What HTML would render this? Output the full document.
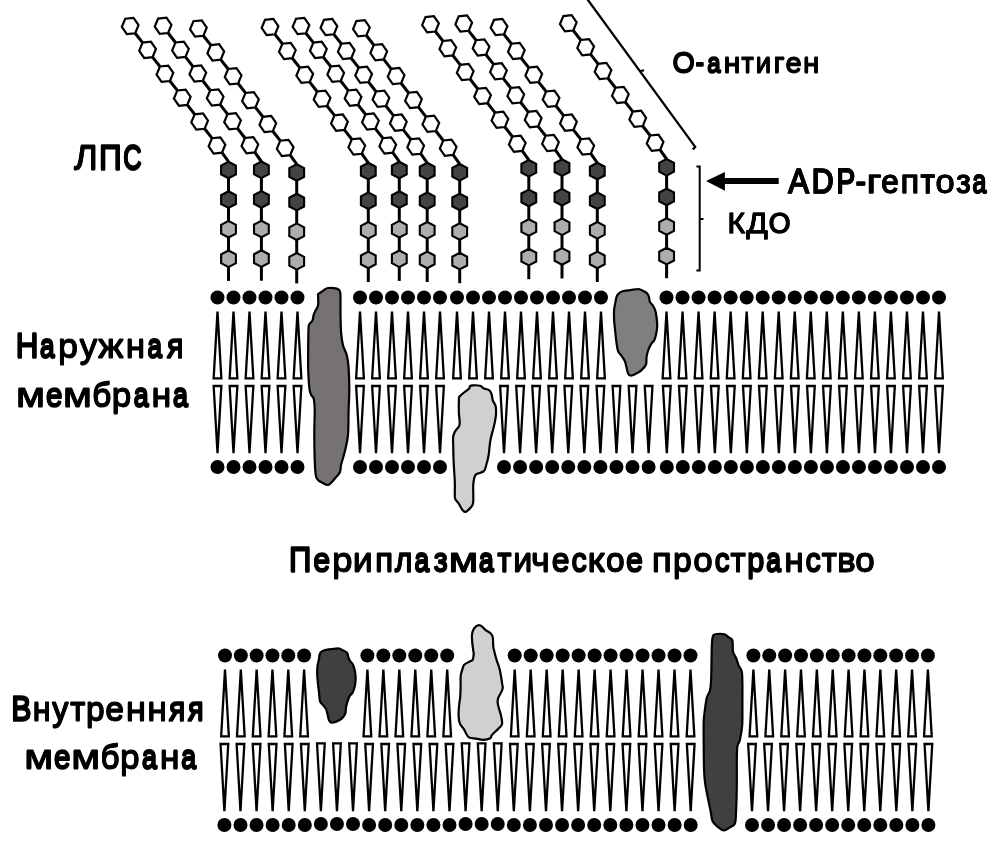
<!DOCTYPE html>
<html><head><meta charset="utf-8"><style>
html,body{margin:0;padding:0;background:#fff;}
svg{display:block;will-change:transform;}
</style></head><body>
<svg width="1002" height="858" viewBox="0 0 1002 858">
<g stroke="#000" stroke-width="2" fill="none" stroke-linecap="butt"><path d="M587.2 -1L695.2 146.9L692.8 149.5" stroke-width="2.3"/><path d="M639.9 71.3L644.2 70.2"/><path d="M696.4 166.4H699.7V270.5H696.4M699.7 219H703.5"/></g><path d="M778.7 178H724.9V171.9L706 181L724.9 190.7V184H778.7Z" fill="#000"/>
<g stroke="#000" stroke-width="3"><line x1="135.18" y1="33.23" x2="142.58" y2="42.65"/><line x1="152.54" y1="57.11" x2="159.94" y2="66.53"/><line x1="169.9" y1="80.99" x2="177.3" y2="90.41"/><line x1="187.26" y1="104.87" x2="194.66" y2="114.29"/><line x1="204.62" y1="128.75" x2="212.02" y2="138.17"/><line x1="221.98" y1="152.63" x2="228.5" y2="161.7"/><line x1="228.5" y1="178.3" x2="228.5" y2="191.3"/><line x1="228.5" y1="207.9" x2="228.5" y2="220.9"/><line x1="228.5" y1="237.5" x2="228.5" y2="250.5"/><line x1="228.5" y1="267.1" x2="228.5" y2="280.9"/><line x1="168.08" y1="33.03" x2="175.48" y2="42.45"/><line x1="185.44" y1="56.91" x2="192.84" y2="66.33"/><line x1="202.8" y1="80.79" x2="210.2" y2="90.21"/><line x1="220.16" y1="104.67" x2="227.56" y2="114.09"/><line x1="237.52" y1="128.55" x2="244.92" y2="137.97"/><line x1="254.88" y1="152.43" x2="261.4" y2="161.5"/><line x1="261.4" y1="178.1" x2="261.4" y2="191.1"/><line x1="261.4" y1="207.7" x2="261.4" y2="220.7"/><line x1="261.4" y1="237.3" x2="261.4" y2="250.3"/><line x1="261.4" y1="266.9" x2="261.4" y2="280.7"/><line x1="203.38" y1="35.73" x2="210.78" y2="45.15"/><line x1="220.74" y1="59.61" x2="228.14" y2="69.03"/><line x1="238.1" y1="83.49" x2="245.5" y2="92.91"/><line x1="255.46" y1="107.37" x2="262.86" y2="116.79"/><line x1="272.82" y1="131.25" x2="280.22" y2="140.67"/><line x1="290.18" y1="155.13" x2="296.7" y2="164.2"/><line x1="296.7" y1="180.8" x2="296.7" y2="193.8"/><line x1="296.7" y1="210.4" x2="296.7" y2="223.4"/><line x1="296.7" y1="240" x2="296.7" y2="253"/><line x1="296.7" y1="269.6" x2="296.7" y2="283.4"/><line x1="274.98" y1="34.33" x2="282.38" y2="43.75"/><line x1="292.34" y1="58.21" x2="299.74" y2="67.63"/><line x1="309.7" y1="82.09" x2="317.1" y2="91.51"/><line x1="327.06" y1="105.97" x2="334.46" y2="115.39"/><line x1="344.42" y1="129.85" x2="351.82" y2="139.27"/><line x1="361.78" y1="153.73" x2="368.3" y2="162.8"/><line x1="368.3" y1="179.4" x2="368.3" y2="192.4"/><line x1="368.3" y1="209" x2="368.3" y2="222"/><line x1="368.3" y1="238.6" x2="368.3" y2="251.6"/><line x1="368.3" y1="268.2" x2="368.3" y2="282"/><line x1="305.98" y1="33.23" x2="313.38" y2="42.65"/><line x1="323.34" y1="57.11" x2="330.74" y2="66.53"/><line x1="340.7" y1="80.99" x2="348.1" y2="90.41"/><line x1="358.06" y1="104.87" x2="365.46" y2="114.29"/><line x1="375.42" y1="128.75" x2="382.82" y2="138.17"/><line x1="392.78" y1="152.63" x2="399.3" y2="161.7"/><line x1="399.3" y1="178.3" x2="399.3" y2="191.3"/><line x1="399.3" y1="207.9" x2="399.3" y2="220.9"/><line x1="399.3" y1="237.5" x2="399.3" y2="250.5"/><line x1="399.3" y1="267.1" x2="399.3" y2="280.9"/><line x1="333.88" y1="34.33" x2="341.28" y2="43.75"/><line x1="351.24" y1="58.21" x2="358.64" y2="67.63"/><line x1="368.6" y1="82.09" x2="376" y2="91.51"/><line x1="385.96" y1="105.97" x2="393.36" y2="115.39"/><line x1="403.32" y1="129.85" x2="410.72" y2="139.27"/><line x1="420.68" y1="153.73" x2="427.2" y2="162.8"/><line x1="427.2" y1="179.4" x2="427.2" y2="192.4"/><line x1="427.2" y1="209" x2="427.2" y2="222"/><line x1="427.2" y1="238.6" x2="427.2" y2="251.6"/><line x1="427.2" y1="268.2" x2="427.2" y2="282"/><line x1="366.38" y1="35.53" x2="373.78" y2="44.95"/><line x1="383.74" y1="59.41" x2="391.14" y2="68.83"/><line x1="401.1" y1="83.29" x2="408.5" y2="92.71"/><line x1="418.46" y1="107.17" x2="425.86" y2="116.59"/><line x1="435.82" y1="131.05" x2="443.22" y2="140.47"/><line x1="453.18" y1="154.93" x2="459.7" y2="164"/><line x1="459.7" y1="180.6" x2="459.7" y2="193.6"/><line x1="459.7" y1="210.2" x2="459.7" y2="223.2"/><line x1="459.7" y1="239.8" x2="459.7" y2="252.8"/><line x1="459.7" y1="269.4" x2="459.7" y2="283.2"/><line x1="435.48" y1="31.53" x2="442.88" y2="40.95"/><line x1="452.84" y1="55.41" x2="460.24" y2="64.83"/><line x1="470.2" y1="79.29" x2="477.6" y2="88.71"/><line x1="487.56" y1="103.17" x2="494.96" y2="112.59"/><line x1="504.92" y1="127.05" x2="512.32" y2="136.47"/><line x1="522.28" y1="150.93" x2="528.8" y2="160"/><line x1="528.8" y1="176.6" x2="528.8" y2="189.6"/><line x1="528.8" y1="206.2" x2="528.8" y2="219.2"/><line x1="528.8" y1="235.8" x2="528.8" y2="248.8"/><line x1="528.8" y1="265.4" x2="528.8" y2="279.2"/><line x1="468.68" y1="30.83" x2="476.08" y2="40.25"/><line x1="486.04" y1="54.71" x2="493.44" y2="64.13"/><line x1="503.4" y1="78.59" x2="510.8" y2="88.01"/><line x1="520.76" y1="102.47" x2="528.16" y2="111.89"/><line x1="538.12" y1="126.35" x2="545.52" y2="135.77"/><line x1="555.48" y1="150.23" x2="562" y2="159.3"/><line x1="562" y1="175.9" x2="562" y2="188.9"/><line x1="562" y1="205.5" x2="562" y2="218.5"/><line x1="562" y1="235.1" x2="562" y2="248.1"/><line x1="562" y1="264.7" x2="562" y2="278.5"/><line x1="503.98" y1="34.33" x2="511.38" y2="43.75"/><line x1="521.34" y1="58.21" x2="528.74" y2="67.63"/><line x1="538.7" y1="82.09" x2="546.1" y2="91.51"/><line x1="556.06" y1="105.97" x2="563.46" y2="115.39"/><line x1="573.42" y1="129.85" x2="580.82" y2="139.27"/><line x1="590.78" y1="153.73" x2="597.3" y2="162.8"/><line x1="597.3" y1="179.4" x2="597.3" y2="192.4"/><line x1="597.3" y1="209" x2="597.3" y2="222"/><line x1="597.3" y1="238.6" x2="597.3" y2="251.6"/><line x1="597.3" y1="268.2" x2="597.3" y2="282"/><line x1="573.28" y1="30.53" x2="580.68" y2="39.95"/><line x1="590.64" y1="54.41" x2="598.04" y2="63.83"/><line x1="608" y1="78.29" x2="615.4" y2="87.71"/><line x1="625.36" y1="102.17" x2="632.76" y2="111.59"/><line x1="642.72" y1="126.05" x2="650.12" y2="135.47"/><line x1="660.08" y1="149.93" x2="666.6" y2="159"/><line x1="666.6" y1="175.6" x2="666.6" y2="188.6"/><line x1="666.6" y1="205.2" x2="666.6" y2="218.2"/><line x1="666.6" y1="234.8" x2="666.6" y2="247.8"/><line x1="666.6" y1="264.4" x2="666.6" y2="278.2"/></g>
<g stroke="#000"><polygon points="138.55,25.12 135.18,33.23 126.83,34.1 121.85,26.88 125.22,18.77 133.57,17.9" fill="#fff" stroke-width="2.2"/><polygon points="155.91,49 152.54,57.11 144.19,57.98 139.21,50.76 142.58,42.65 150.93,41.78" fill="#fff" stroke-width="2.2"/><polygon points="173.27,72.88 169.9,80.99 161.55,81.86 156.57,74.64 159.94,66.53 168.29,65.66" fill="#fff" stroke-width="2.2"/><polygon points="190.63,96.76 187.26,104.87 178.91,105.74 173.93,98.52 177.3,90.41 185.65,89.54" fill="#fff" stroke-width="2.2"/><polygon points="207.99,120.64 204.62,128.75 196.27,129.62 191.29,122.4 194.66,114.29 203.01,113.42" fill="#fff" stroke-width="2.2"/><polygon points="225.35,144.52 221.98,152.63 213.63,153.5 208.65,146.28 212.02,138.17 220.37,137.3" fill="#fff" stroke-width="2.2"/><polygon points="228.5,161.7 235.9,165.6 235.9,174.4 228.5,178.3 221.1,174.4 221.1,165.6" fill="#434343" stroke-width="2.1"/><polygon points="228.5,191.3 235.9,195.2 235.9,204 228.5,207.9 221.1,204 221.1,195.2" fill="#434343" stroke-width="2.1"/><polygon points="228.5,220.9 235.9,224.8 235.9,233.6 228.5,237.5 221.1,233.6 221.1,224.8" fill="#aeadad" stroke-width="2.1"/><polygon points="228.5,250.5 235.9,254.4 235.9,263.2 228.5,267.1 221.1,263.2 221.1,254.4" fill="#aeadad" stroke-width="2.1"/><polygon points="171.45,24.92 168.08,33.03 159.73,33.9 154.75,26.68 158.12,18.57 166.47,17.7" fill="#fff" stroke-width="2.2"/><polygon points="188.81,48.8 185.44,56.91 177.09,57.78 172.11,50.56 175.48,42.45 183.83,41.58" fill="#fff" stroke-width="2.2"/><polygon points="206.17,72.68 202.8,80.79 194.45,81.66 189.47,74.44 192.84,66.33 201.19,65.46" fill="#fff" stroke-width="2.2"/><polygon points="223.53,96.56 220.16,104.67 211.81,105.54 206.83,98.32 210.2,90.21 218.55,89.34" fill="#fff" stroke-width="2.2"/><polygon points="240.89,120.44 237.52,128.55 229.17,129.42 224.19,122.2 227.56,114.09 235.91,113.22" fill="#fff" stroke-width="2.2"/><polygon points="258.25,144.32 254.88,152.43 246.53,153.3 241.55,146.08 244.92,137.97 253.27,137.1" fill="#fff" stroke-width="2.2"/><polygon points="261.4,161.5 268.8,165.4 268.8,174.2 261.4,178.1 254,174.2 254,165.4" fill="#434343" stroke-width="2.1"/><polygon points="261.4,191.1 268.8,195 268.8,203.8 261.4,207.7 254,203.8 254,195" fill="#434343" stroke-width="2.1"/><polygon points="261.4,220.7 268.8,224.6 268.8,233.4 261.4,237.3 254,233.4 254,224.6" fill="#aeadad" stroke-width="2.1"/><polygon points="261.4,250.3 268.8,254.2 268.8,263 261.4,266.9 254,263 254,254.2" fill="#aeadad" stroke-width="2.1"/><polygon points="206.75,27.62 203.38,35.73 195.03,36.6 190.05,29.38 193.42,21.27 201.77,20.4" fill="#fff" stroke-width="2.2"/><polygon points="224.11,51.5 220.74,59.61 212.39,60.48 207.41,53.26 210.78,45.15 219.13,44.28" fill="#fff" stroke-width="2.2"/><polygon points="241.47,75.38 238.1,83.49 229.75,84.36 224.77,77.14 228.14,69.03 236.49,68.16" fill="#fff" stroke-width="2.2"/><polygon points="258.83,99.26 255.46,107.37 247.11,108.24 242.13,101.02 245.5,92.91 253.85,92.04" fill="#fff" stroke-width="2.2"/><polygon points="276.19,123.14 272.82,131.25 264.47,132.12 259.49,124.9 262.86,116.79 271.21,115.92" fill="#fff" stroke-width="2.2"/><polygon points="293.55,147.02 290.18,155.13 281.83,156 276.85,148.78 280.22,140.67 288.57,139.8" fill="#fff" stroke-width="2.2"/><polygon points="296.7,164.2 304.1,168.1 304.1,176.9 296.7,180.8 289.3,176.9 289.3,168.1" fill="#434343" stroke-width="2.1"/><polygon points="296.7,193.8 304.1,197.7 304.1,206.5 296.7,210.4 289.3,206.5 289.3,197.7" fill="#434343" stroke-width="2.1"/><polygon points="296.7,223.4 304.1,227.3 304.1,236.1 296.7,240 289.3,236.1 289.3,227.3" fill="#aeadad" stroke-width="2.1"/><polygon points="296.7,253 304.1,256.9 304.1,265.7 296.7,269.6 289.3,265.7 289.3,256.9" fill="#aeadad" stroke-width="2.1"/><polygon points="278.35,26.22 274.98,34.33 266.63,35.2 261.65,27.98 265.02,19.87 273.37,19" fill="#fff" stroke-width="2.2"/><polygon points="295.71,50.1 292.34,58.21 283.99,59.08 279.01,51.86 282.38,43.75 290.73,42.88" fill="#fff" stroke-width="2.2"/><polygon points="313.07,73.98 309.7,82.09 301.35,82.96 296.37,75.74 299.74,67.63 308.09,66.76" fill="#fff" stroke-width="2.2"/><polygon points="330.43,97.86 327.06,105.97 318.71,106.84 313.73,99.62 317.1,91.51 325.45,90.64" fill="#fff" stroke-width="2.2"/><polygon points="347.79,121.74 344.42,129.85 336.07,130.72 331.09,123.5 334.46,115.39 342.81,114.52" fill="#fff" stroke-width="2.2"/><polygon points="365.15,145.62 361.78,153.73 353.43,154.6 348.45,147.38 351.82,139.27 360.17,138.4" fill="#fff" stroke-width="2.2"/><polygon points="368.3,162.8 375.7,166.7 375.7,175.5 368.3,179.4 360.9,175.5 360.9,166.7" fill="#434343" stroke-width="2.1"/><polygon points="368.3,192.4 375.7,196.3 375.7,205.1 368.3,209 360.9,205.1 360.9,196.3" fill="#434343" stroke-width="2.1"/><polygon points="368.3,222 375.7,225.9 375.7,234.7 368.3,238.6 360.9,234.7 360.9,225.9" fill="#aeadad" stroke-width="2.1"/><polygon points="368.3,251.6 375.7,255.5 375.7,264.3 368.3,268.2 360.9,264.3 360.9,255.5" fill="#aeadad" stroke-width="2.1"/><polygon points="309.35,25.12 305.98,33.23 297.63,34.1 292.65,26.88 296.02,18.77 304.37,17.9" fill="#fff" stroke-width="2.2"/><polygon points="326.71,49 323.34,57.11 314.99,57.98 310.01,50.76 313.38,42.65 321.73,41.78" fill="#fff" stroke-width="2.2"/><polygon points="344.07,72.88 340.7,80.99 332.35,81.86 327.37,74.64 330.74,66.53 339.09,65.66" fill="#fff" stroke-width="2.2"/><polygon points="361.43,96.76 358.06,104.87 349.71,105.74 344.73,98.52 348.1,90.41 356.45,89.54" fill="#fff" stroke-width="2.2"/><polygon points="378.79,120.64 375.42,128.75 367.07,129.62 362.09,122.4 365.46,114.29 373.81,113.42" fill="#fff" stroke-width="2.2"/><polygon points="396.15,144.52 392.78,152.63 384.43,153.5 379.45,146.28 382.82,138.17 391.17,137.3" fill="#fff" stroke-width="2.2"/><polygon points="399.3,161.7 406.7,165.6 406.7,174.4 399.3,178.3 391.9,174.4 391.9,165.6" fill="#434343" stroke-width="2.1"/><polygon points="399.3,191.3 406.7,195.2 406.7,204 399.3,207.9 391.9,204 391.9,195.2" fill="#434343" stroke-width="2.1"/><polygon points="399.3,220.9 406.7,224.8 406.7,233.6 399.3,237.5 391.9,233.6 391.9,224.8" fill="#aeadad" stroke-width="2.1"/><polygon points="399.3,250.5 406.7,254.4 406.7,263.2 399.3,267.1 391.9,263.2 391.9,254.4" fill="#aeadad" stroke-width="2.1"/><polygon points="337.25,26.22 333.88,34.33 325.53,35.2 320.55,27.98 323.92,19.87 332.27,19" fill="#fff" stroke-width="2.2"/><polygon points="354.61,50.1 351.24,58.21 342.89,59.08 337.91,51.86 341.28,43.75 349.63,42.88" fill="#fff" stroke-width="2.2"/><polygon points="371.97,73.98 368.6,82.09 360.25,82.96 355.27,75.74 358.64,67.63 366.99,66.76" fill="#fff" stroke-width="2.2"/><polygon points="389.33,97.86 385.96,105.97 377.61,106.84 372.63,99.62 376,91.51 384.35,90.64" fill="#fff" stroke-width="2.2"/><polygon points="406.69,121.74 403.32,129.85 394.97,130.72 389.99,123.5 393.36,115.39 401.71,114.52" fill="#fff" stroke-width="2.2"/><polygon points="424.05,145.62 420.68,153.73 412.33,154.6 407.35,147.38 410.72,139.27 419.07,138.4" fill="#fff" stroke-width="2.2"/><polygon points="427.2,162.8 434.6,166.7 434.6,175.5 427.2,179.4 419.8,175.5 419.8,166.7" fill="#434343" stroke-width="2.1"/><polygon points="427.2,192.4 434.6,196.3 434.6,205.1 427.2,209 419.8,205.1 419.8,196.3" fill="#434343" stroke-width="2.1"/><polygon points="427.2,222 434.6,225.9 434.6,234.7 427.2,238.6 419.8,234.7 419.8,225.9" fill="#aeadad" stroke-width="2.1"/><polygon points="427.2,251.6 434.6,255.5 434.6,264.3 427.2,268.2 419.8,264.3 419.8,255.5" fill="#aeadad" stroke-width="2.1"/><polygon points="369.75,27.42 366.38,35.53 358.03,36.4 353.05,29.18 356.42,21.07 364.77,20.2" fill="#fff" stroke-width="2.2"/><polygon points="387.11,51.3 383.74,59.41 375.39,60.28 370.41,53.06 373.78,44.95 382.13,44.08" fill="#fff" stroke-width="2.2"/><polygon points="404.47,75.18 401.1,83.29 392.75,84.16 387.77,76.94 391.14,68.83 399.49,67.96" fill="#fff" stroke-width="2.2"/><polygon points="421.83,99.06 418.46,107.17 410.11,108.04 405.13,100.82 408.5,92.71 416.85,91.84" fill="#fff" stroke-width="2.2"/><polygon points="439.19,122.94 435.82,131.05 427.47,131.92 422.49,124.7 425.86,116.59 434.21,115.72" fill="#fff" stroke-width="2.2"/><polygon points="456.55,146.82 453.18,154.93 444.83,155.8 439.85,148.58 443.22,140.47 451.57,139.6" fill="#fff" stroke-width="2.2"/><polygon points="459.7,164 467.1,167.9 467.1,176.7 459.7,180.6 452.3,176.7 452.3,167.9" fill="#434343" stroke-width="2.1"/><polygon points="459.7,193.6 467.1,197.5 467.1,206.3 459.7,210.2 452.3,206.3 452.3,197.5" fill="#434343" stroke-width="2.1"/><polygon points="459.7,223.2 467.1,227.1 467.1,235.9 459.7,239.8 452.3,235.9 452.3,227.1" fill="#aeadad" stroke-width="2.1"/><polygon points="459.7,252.8 467.1,256.7 467.1,265.5 459.7,269.4 452.3,265.5 452.3,256.7" fill="#aeadad" stroke-width="2.1"/><polygon points="438.85,23.42 435.48,31.53 427.13,32.4 422.15,25.18 425.52,17.07 433.87,16.2" fill="#fff" stroke-width="2.2"/><polygon points="456.21,47.3 452.84,55.41 444.49,56.28 439.51,49.06 442.88,40.95 451.23,40.08" fill="#fff" stroke-width="2.2"/><polygon points="473.57,71.18 470.2,79.29 461.85,80.16 456.87,72.94 460.24,64.83 468.59,63.96" fill="#fff" stroke-width="2.2"/><polygon points="490.93,95.06 487.56,103.17 479.21,104.04 474.23,96.82 477.6,88.71 485.95,87.84" fill="#fff" stroke-width="2.2"/><polygon points="508.29,118.94 504.92,127.05 496.57,127.92 491.59,120.7 494.96,112.59 503.31,111.72" fill="#fff" stroke-width="2.2"/><polygon points="525.65,142.82 522.28,150.93 513.93,151.8 508.95,144.58 512.32,136.47 520.67,135.6" fill="#fff" stroke-width="2.2"/><polygon points="528.8,160 536.2,163.9 536.2,172.7 528.8,176.6 521.4,172.7 521.4,163.9" fill="#434343" stroke-width="2.1"/><polygon points="528.8,189.6 536.2,193.5 536.2,202.3 528.8,206.2 521.4,202.3 521.4,193.5" fill="#434343" stroke-width="2.1"/><polygon points="528.8,219.2 536.2,223.1 536.2,231.9 528.8,235.8 521.4,231.9 521.4,223.1" fill="#aeadad" stroke-width="2.1"/><polygon points="528.8,248.8 536.2,252.7 536.2,261.5 528.8,265.4 521.4,261.5 521.4,252.7" fill="#aeadad" stroke-width="2.1"/><polygon points="472.05,22.72 468.68,30.83 460.33,31.7 455.35,24.48 458.72,16.37 467.07,15.5" fill="#fff" stroke-width="2.2"/><polygon points="489.41,46.6 486.04,54.71 477.69,55.58 472.71,48.36 476.08,40.25 484.43,39.38" fill="#fff" stroke-width="2.2"/><polygon points="506.77,70.48 503.4,78.59 495.05,79.46 490.07,72.24 493.44,64.13 501.79,63.26" fill="#fff" stroke-width="2.2"/><polygon points="524.13,94.36 520.76,102.47 512.41,103.34 507.43,96.12 510.8,88.01 519.15,87.14" fill="#fff" stroke-width="2.2"/><polygon points="541.49,118.24 538.12,126.35 529.77,127.22 524.79,120 528.16,111.89 536.51,111.02" fill="#fff" stroke-width="2.2"/><polygon points="558.85,142.12 555.48,150.23 547.13,151.1 542.15,143.88 545.52,135.77 553.87,134.9" fill="#fff" stroke-width="2.2"/><polygon points="562,159.3 569.4,163.2 569.4,172 562,175.9 554.6,172 554.6,163.2" fill="#434343" stroke-width="2.1"/><polygon points="562,188.9 569.4,192.8 569.4,201.6 562,205.5 554.6,201.6 554.6,192.8" fill="#434343" stroke-width="2.1"/><polygon points="562,218.5 569.4,222.4 569.4,231.2 562,235.1 554.6,231.2 554.6,222.4" fill="#aeadad" stroke-width="2.1"/><polygon points="562,248.1 569.4,252 569.4,260.8 562,264.7 554.6,260.8 554.6,252" fill="#aeadad" stroke-width="2.1"/><polygon points="507.35,26.22 503.98,34.33 495.63,35.2 490.65,27.98 494.02,19.87 502.37,19" fill="#fff" stroke-width="2.2"/><polygon points="524.71,50.1 521.34,58.21 512.99,59.08 508.01,51.86 511.38,43.75 519.73,42.88" fill="#fff" stroke-width="2.2"/><polygon points="542.07,73.98 538.7,82.09 530.35,82.96 525.37,75.74 528.74,67.63 537.09,66.76" fill="#fff" stroke-width="2.2"/><polygon points="559.43,97.86 556.06,105.97 547.71,106.84 542.73,99.62 546.1,91.51 554.45,90.64" fill="#fff" stroke-width="2.2"/><polygon points="576.79,121.74 573.42,129.85 565.07,130.72 560.09,123.5 563.46,115.39 571.81,114.52" fill="#fff" stroke-width="2.2"/><polygon points="594.15,145.62 590.78,153.73 582.43,154.6 577.45,147.38 580.82,139.27 589.17,138.4" fill="#fff" stroke-width="2.2"/><polygon points="597.3,162.8 604.7,166.7 604.7,175.5 597.3,179.4 589.9,175.5 589.9,166.7" fill="#434343" stroke-width="2.1"/><polygon points="597.3,192.4 604.7,196.3 604.7,205.1 597.3,209 589.9,205.1 589.9,196.3" fill="#434343" stroke-width="2.1"/><polygon points="597.3,222 604.7,225.9 604.7,234.7 597.3,238.6 589.9,234.7 589.9,225.9" fill="#aeadad" stroke-width="2.1"/><polygon points="597.3,251.6 604.7,255.5 604.7,264.3 597.3,268.2 589.9,264.3 589.9,255.5" fill="#aeadad" stroke-width="2.1"/><polygon points="576.65,22.42 573.28,30.53 564.93,31.4 559.95,24.18 563.32,16.07 571.67,15.2" fill="#fff" stroke-width="2.2"/><polygon points="594.01,46.3 590.64,54.41 582.29,55.28 577.31,48.06 580.68,39.95 589.03,39.08" fill="#fff" stroke-width="2.2"/><polygon points="611.37,70.18 608,78.29 599.65,79.16 594.67,71.94 598.04,63.83 606.39,62.96" fill="#fff" stroke-width="2.2"/><polygon points="628.73,94.06 625.36,102.17 617.01,103.04 612.03,95.82 615.4,87.71 623.75,86.84" fill="#fff" stroke-width="2.2"/><polygon points="646.09,117.94 642.72,126.05 634.37,126.92 629.39,119.7 632.76,111.59 641.11,110.72" fill="#fff" stroke-width="2.2"/><polygon points="663.45,141.82 660.08,149.93 651.73,150.8 646.75,143.58 650.12,135.47 658.47,134.6" fill="#fff" stroke-width="2.2"/><polygon points="666.6,159 674,162.9 674,171.7 666.6,175.6 659.2,171.7 659.2,162.9" fill="#434343" stroke-width="2.1"/><polygon points="666.6,188.6 674,192.5 674,201.3 666.6,205.2 659.2,201.3 659.2,192.5" fill="#434343" stroke-width="2.1"/><polygon points="666.6,218.2 674,222.1 674,230.9 666.6,234.8 659.2,230.9 659.2,222.1" fill="#aeadad" stroke-width="2.1"/><polygon points="666.6,247.8 674,251.7 674,260.5 666.6,264.4 659.2,260.5 659.2,251.7" fill="#aeadad" stroke-width="2.1"/></g>
<g fill="#fff" stroke="#000" stroke-width="2.3" stroke-linejoin="miter"><path d="M217.5 311.5L221.35 378.4H213.65Z"/><path d="M233.5 311.5L237.35 378.4H229.65Z"/><path d="M249.5 311.5L253.35 378.4H245.65Z"/><path d="M265.5 311.5L269.35 378.4H261.65Z"/><path d="M281.5 311.5L285.35 378.4H277.65Z"/><path d="M297.5 311.5L301.35 378.4H293.65Z"/><path d="M360 311.5L363.85 378.4H356.15Z"/><path d="M376 311.5L379.85 378.4H372.15Z"/><path d="M392 311.5L395.85 378.4H388.15Z"/><path d="M408 311.5L411.85 378.4H404.15Z"/><path d="M424 311.5L427.85 378.4H420.15Z"/><path d="M440 311.5L443.85 378.4H436.15Z"/><path d="M457 311.5L460.85 378.4H453.15Z"/><path d="M473 311.5L476.85 378.4H469.15Z"/><path d="M489 311.5L492.85 378.4H485.15Z"/><path d="M505 311.5L508.85 378.4H501.15Z"/><path d="M521 311.5L524.85 378.4H517.15Z"/><path d="M537 311.5L540.85 378.4H533.15Z"/><path d="M553 311.5L556.85 378.4H549.15Z"/><path d="M569 311.5L572.85 378.4H565.15Z"/><path d="M585 311.5L588.85 378.4H581.15Z"/><path d="M601 311.5L604.85 378.4H597.15Z"/><path d="M666.5 311.5L670.35 378.4H662.65Z"/><path d="M682.53 311.5L686.38 378.4H678.68Z"/><path d="M698.56 311.5L702.41 378.4H694.71Z"/><path d="M714.59 311.5L718.44 378.4H710.74Z"/><path d="M730.62 311.5L734.47 378.4H726.77Z"/><path d="M746.65 311.5L750.5 378.4H742.8Z"/><path d="M762.68 311.5L766.53 378.4H758.83Z"/><path d="M778.71 311.5L782.56 378.4H774.86Z"/><path d="M794.74 311.5L798.59 378.4H790.89Z"/><path d="M810.76 311.5L814.61 378.4H806.91Z"/><path d="M826.79 311.5L830.64 378.4H822.94Z"/><path d="M842.82 311.5L846.67 378.4H838.97Z"/><path d="M858.85 311.5L862.7 378.4H855Z"/><path d="M874.88 311.5L878.73 378.4H871.03Z"/><path d="M890.91 311.5L894.76 378.4H887.06Z"/><path d="M906.94 311.5L910.79 378.4H903.09Z"/><path d="M922.97 311.5L926.82 378.4H919.12Z"/><path d="M939 311.5L942.85 378.4H935.15Z"/><path d="M213.65 386H221.35L217.5 453.3Z"/><path d="M229.65 386H237.35L233.5 453.3Z"/><path d="M245.65 386H253.35L249.5 453.3Z"/><path d="M261.65 386H269.35L265.5 453.3Z"/><path d="M277.65 386H285.35L281.5 453.3Z"/><path d="M293.65 386H301.35L297.5 453.3Z"/><path d="M356.15 386H363.85L360 453.3Z"/><path d="M372.15 386H379.85L376 453.3Z"/><path d="M388.15 386H395.85L392 453.3Z"/><path d="M404.15 386H411.85L408 453.3Z"/><path d="M420.15 386H427.85L424 453.3Z"/><path d="M436.15 386H443.85L440 453.3Z"/><path d="M500.15 386H507.85L504 453.3Z"/><path d="M516.22 386H523.92L520.07 453.3Z"/><path d="M532.28 386H539.98L536.13 453.3Z"/><path d="M548.35 386H556.05L552.2 453.3Z"/><path d="M564.42 386H572.12L568.27 453.3Z"/><path d="M580.48 386H588.18L584.33 453.3Z"/><path d="M596.55 386H604.25L600.4 453.3Z"/><path d="M612.62 386H620.32L616.47 453.3Z"/><path d="M628.68 386H636.38L632.53 453.3Z"/><path d="M644.75 386H652.45L648.6 453.3Z"/><path d="M662.95 386H670.65L666.8 453.3Z"/><path d="M678.96 386H686.66L682.81 453.3Z"/><path d="M694.97 386H702.67L698.82 453.3Z"/><path d="M710.99 386H718.69L714.84 453.3Z"/><path d="M727 386H734.7L730.85 453.3Z"/><path d="M743.01 386H750.71L746.86 453.3Z"/><path d="M759.02 386H766.72L762.87 453.3Z"/><path d="M775.03 386H782.73L778.88 453.3Z"/><path d="M791.04 386H798.74L794.89 453.3Z"/><path d="M807.06 386H814.76L810.91 453.3Z"/><path d="M823.07 386H830.77L826.92 453.3Z"/><path d="M839.08 386H846.78L842.93 453.3Z"/><path d="M855.09 386H862.79L858.94 453.3Z"/><path d="M871.1 386H878.8L874.95 453.3Z"/><path d="M887.11 386H894.81L890.96 453.3Z"/><path d="M903.13 386H910.83L906.98 453.3Z"/><path d="M919.14 386H926.84L922.99 453.3Z"/><path d="M935.15 386H942.85L939 453.3Z"/><path d="M225 669.5L228.85 736.4H221.15Z"/><path d="M240.82 669.5L244.67 736.4H236.97Z"/><path d="M256.64 669.5L260.49 736.4H252.79Z"/><path d="M272.46 669.5L276.31 736.4H268.61Z"/><path d="M288.28 669.5L292.13 736.4H284.43Z"/><path d="M304.1 669.5L307.95 736.4H300.25Z"/><path d="M367.4 669.5L371.25 736.4H363.55Z"/><path d="M383.36 669.5L387.21 736.4H379.51Z"/><path d="M399.32 669.5L403.17 736.4H395.47Z"/><path d="M415.28 669.5L419.13 736.4H411.43Z"/><path d="M431.24 669.5L435.09 736.4H427.39Z"/><path d="M447.2 669.5L451.05 736.4H443.35Z"/><path d="M514.7 669.5L518.55 736.4H510.85Z"/><path d="M530.68 669.5L534.53 736.4H526.83Z"/><path d="M546.66 669.5L550.51 736.4H542.81Z"/><path d="M562.65 669.5L566.5 736.4H558.8Z"/><path d="M578.63 669.5L582.48 736.4H574.78Z"/><path d="M594.61 669.5L598.46 736.4H590.76Z"/><path d="M610.59 669.5L614.44 736.4H606.74Z"/><path d="M626.57 669.5L630.42 736.4H622.72Z"/><path d="M642.55 669.5L646.4 736.4H638.7Z"/><path d="M658.54 669.5L662.39 736.4H654.69Z"/><path d="M674.52 669.5L678.37 736.4H670.67Z"/><path d="M690.5 669.5L694.35 736.4H686.65Z"/><path d="M753.4 669.5L757.25 736.4H749.55Z"/><path d="M769.26 669.5L773.11 736.4H765.41Z"/><path d="M785.13 669.5L788.98 736.4H781.28Z"/><path d="M800.99 669.5L804.84 736.4H797.14Z"/><path d="M816.85 669.5L820.7 736.4H813Z"/><path d="M832.72 669.5L836.57 736.4H828.87Z"/><path d="M848.58 669.5L852.43 736.4H844.73Z"/><path d="M864.45 669.5L868.3 736.4H860.6Z"/><path d="M880.31 669.5L884.16 736.4H876.46Z"/><path d="M896.17 669.5L900.02 736.4H892.32Z"/><path d="M912.04 669.5L915.89 736.4H908.19Z"/><path d="M927.9 669.5L931.75 736.4H924.05Z"/><path d="M220.55 744H228.25L224.4 811.3Z"/><path d="M236.63 744H244.33L240.48 811.3Z"/><path d="M252.71 744H260.41L256.56 811.3Z"/><path d="M268.79 744H276.49L272.64 811.3Z"/><path d="M284.87 744H292.57L288.72 811.3Z"/><path d="M300.95 744H308.65L304.8 811.3Z"/><path d="M317.03 743.4H324.73L320.88 811.3Z"/><path d="M333.11 743.4H340.81L336.96 811.3Z"/><path d="M349.18 743.4H356.88L353.03 811.3Z"/><path d="M365.26 744H372.96L369.11 811.3Z"/><path d="M381.34 744H389.04L385.19 811.3Z"/><path d="M397.42 744H405.12L401.27 811.3Z"/><path d="M413.5 744H421.2L417.35 811.3Z"/><path d="M429.58 744H437.28L433.43 811.3Z"/><path d="M445.66 744H453.36L449.51 811.3Z"/><path d="M461.74 743.4H469.44L465.59 811.3Z"/><path d="M477.82 743.4H485.52L481.67 811.3Z"/><path d="M493.9 743.4H501.6L497.75 811.3Z"/><path d="M509.98 744H517.68L513.83 811.3Z"/><path d="M526.06 744H533.76L529.91 811.3Z"/><path d="M542.14 744H549.84L545.99 811.3Z"/><path d="M558.22 744H565.92L562.07 811.3Z"/><path d="M574.29 744H581.99L578.14 811.3Z"/><path d="M590.37 744H598.07L594.22 811.3Z"/><path d="M606.45 744H614.15L610.3 811.3Z"/><path d="M622.53 744H630.23L626.38 811.3Z"/><path d="M638.61 744H646.31L642.46 811.3Z"/><path d="M654.69 744H662.39L658.54 811.3Z"/><path d="M670.77 744H678.47L674.62 811.3Z"/><path d="M686.85 744H694.55L690.7 811.3Z"/><path d="M748.15 744H755.85L752 811.3Z"/><path d="M764.19 744H771.89L768.04 811.3Z"/><path d="M780.22 744H787.92L784.07 811.3Z"/><path d="M796.26 744H803.96L800.11 811.3Z"/><path d="M812.3 744H820L816.15 811.3Z"/><path d="M828.33 744H836.03L832.18 811.3Z"/><path d="M844.37 744H852.07L848.22 811.3Z"/><path d="M860.4 744H868.1L864.25 811.3Z"/><path d="M876.44 744H884.14L880.29 811.3Z"/><path d="M892.48 744H900.18L896.33 811.3Z"/><path d="M908.51 744H916.21L912.36 811.3Z"/><path d="M924.55 744H932.25L928.4 811.3Z"/></g><g fill="#000"><circle cx="217.5" cy="297.5" r="7"/><circle cx="233.5" cy="297.5" r="7"/><circle cx="249.5" cy="297.5" r="7"/><circle cx="265.5" cy="297.5" r="7"/><circle cx="281.5" cy="297.5" r="7"/><circle cx="297.5" cy="297.5" r="7"/><circle cx="360" cy="297.5" r="7"/><circle cx="376" cy="297.5" r="7"/><circle cx="392" cy="297.5" r="7"/><circle cx="408" cy="297.5" r="7"/><circle cx="424" cy="297.5" r="7"/><circle cx="440" cy="297.5" r="7"/><circle cx="457" cy="297.5" r="7"/><circle cx="473" cy="297.5" r="7"/><circle cx="489" cy="297.5" r="7"/><circle cx="505" cy="297.5" r="7"/><circle cx="521" cy="297.5" r="7"/><circle cx="537" cy="297.5" r="7"/><circle cx="553" cy="297.5" r="7"/><circle cx="569" cy="297.5" r="7"/><circle cx="585" cy="297.5" r="7"/><circle cx="601" cy="297.5" r="7"/><circle cx="666.5" cy="297.5" r="7"/><circle cx="682.53" cy="297.5" r="7"/><circle cx="698.56" cy="297.5" r="7"/><circle cx="714.59" cy="297.5" r="7"/><circle cx="730.62" cy="297.5" r="7"/><circle cx="746.65" cy="297.5" r="7"/><circle cx="762.68" cy="297.5" r="7"/><circle cx="778.71" cy="297.5" r="7"/><circle cx="794.74" cy="297.5" r="7"/><circle cx="810.76" cy="297.5" r="7"/><circle cx="826.79" cy="297.5" r="7"/><circle cx="842.82" cy="297.5" r="7"/><circle cx="858.85" cy="297.5" r="7"/><circle cx="874.88" cy="297.5" r="7"/><circle cx="890.91" cy="297.5" r="7"/><circle cx="906.94" cy="297.5" r="7"/><circle cx="922.97" cy="297.5" r="7"/><circle cx="939" cy="297.5" r="7"/><circle cx="217.5" cy="467" r="7"/><circle cx="233.5" cy="467" r="7"/><circle cx="249.5" cy="467" r="7"/><circle cx="265.5" cy="467" r="7"/><circle cx="281.5" cy="467" r="7"/><circle cx="297.5" cy="467" r="7"/><circle cx="360" cy="467" r="7"/><circle cx="376" cy="467" r="7"/><circle cx="392" cy="467" r="7"/><circle cx="408" cy="467" r="7"/><circle cx="424" cy="467" r="7"/><circle cx="440" cy="467" r="7"/><circle cx="504" cy="467" r="7"/><circle cx="520.07" cy="467" r="7"/><circle cx="536.13" cy="467" r="7"/><circle cx="552.2" cy="467" r="7"/><circle cx="568.27" cy="467" r="7"/><circle cx="584.33" cy="467" r="7"/><circle cx="600.4" cy="467" r="7"/><circle cx="616.47" cy="467" r="7"/><circle cx="632.53" cy="467" r="7"/><circle cx="648.6" cy="467" r="7"/><circle cx="666.8" cy="467" r="7"/><circle cx="682.81" cy="467" r="7"/><circle cx="698.82" cy="467" r="7"/><circle cx="714.84" cy="467" r="7"/><circle cx="730.85" cy="467" r="7"/><circle cx="746.86" cy="467" r="7"/><circle cx="762.87" cy="467" r="7"/><circle cx="778.88" cy="467" r="7"/><circle cx="794.89" cy="467" r="7"/><circle cx="810.91" cy="467" r="7"/><circle cx="826.92" cy="467" r="7"/><circle cx="842.93" cy="467" r="7"/><circle cx="858.94" cy="467" r="7"/><circle cx="874.95" cy="467" r="7"/><circle cx="890.96" cy="467" r="7"/><circle cx="906.98" cy="467" r="7"/><circle cx="922.99" cy="467" r="7"/><circle cx="939" cy="467" r="7"/><circle cx="225" cy="655.5" r="7"/><circle cx="240.82" cy="655.5" r="7"/><circle cx="256.64" cy="655.5" r="7"/><circle cx="272.46" cy="655.5" r="7"/><circle cx="288.28" cy="655.5" r="7"/><circle cx="304.1" cy="655.5" r="7"/><circle cx="367.4" cy="655.5" r="7"/><circle cx="383.36" cy="655.5" r="7"/><circle cx="399.32" cy="655.5" r="7"/><circle cx="415.28" cy="655.5" r="7"/><circle cx="431.24" cy="655.5" r="7"/><circle cx="447.2" cy="655.5" r="7"/><circle cx="514.7" cy="655.5" r="7"/><circle cx="530.68" cy="655.5" r="7"/><circle cx="546.66" cy="655.5" r="7"/><circle cx="562.65" cy="655.5" r="7"/><circle cx="578.63" cy="655.5" r="7"/><circle cx="594.61" cy="655.5" r="7"/><circle cx="610.59" cy="655.5" r="7"/><circle cx="626.57" cy="655.5" r="7"/><circle cx="642.55" cy="655.5" r="7"/><circle cx="658.54" cy="655.5" r="7"/><circle cx="674.52" cy="655.5" r="7"/><circle cx="690.5" cy="655.5" r="7"/><circle cx="753.4" cy="655.5" r="7"/><circle cx="769.26" cy="655.5" r="7"/><circle cx="785.13" cy="655.5" r="7"/><circle cx="800.99" cy="655.5" r="7"/><circle cx="816.85" cy="655.5" r="7"/><circle cx="832.72" cy="655.5" r="7"/><circle cx="848.58" cy="655.5" r="7"/><circle cx="864.45" cy="655.5" r="7"/><circle cx="880.31" cy="655.5" r="7"/><circle cx="896.17" cy="655.5" r="7"/><circle cx="912.04" cy="655.5" r="7"/><circle cx="927.9" cy="655.5" r="7"/><circle cx="224.4" cy="825" r="7"/><circle cx="240.48" cy="825" r="7"/><circle cx="256.56" cy="825" r="7"/><circle cx="272.64" cy="825" r="7"/><circle cx="288.72" cy="825" r="7"/><circle cx="304.8" cy="825" r="7"/><circle cx="320.88" cy="824" r="7"/><circle cx="336.96" cy="824" r="7"/><circle cx="353.03" cy="824" r="7"/><circle cx="369.11" cy="825" r="7"/><circle cx="385.19" cy="825" r="7"/><circle cx="401.27" cy="825" r="7"/><circle cx="417.35" cy="825" r="7"/><circle cx="433.43" cy="825" r="7"/><circle cx="449.51" cy="825" r="7"/><circle cx="465.59" cy="824" r="7"/><circle cx="481.67" cy="824" r="7"/><circle cx="497.75" cy="824" r="7"/><circle cx="513.83" cy="825" r="7"/><circle cx="529.91" cy="825" r="7"/><circle cx="545.99" cy="825" r="7"/><circle cx="562.07" cy="825" r="7"/><circle cx="578.14" cy="825" r="7"/><circle cx="594.22" cy="825" r="7"/><circle cx="610.3" cy="825" r="7"/><circle cx="626.38" cy="825" r="7"/><circle cx="642.46" cy="825" r="7"/><circle cx="658.54" cy="825" r="7"/><circle cx="674.62" cy="825" r="7"/><circle cx="690.7" cy="825" r="7"/><circle cx="752" cy="825" r="7"/><circle cx="768.04" cy="825" r="7"/><circle cx="784.07" cy="825" r="7"/><circle cx="800.11" cy="825" r="7"/><circle cx="816.15" cy="825" r="7"/><circle cx="832.18" cy="825" r="7"/><circle cx="848.22" cy="825" r="7"/><circle cx="864.25" cy="825" r="7"/><circle cx="880.29" cy="825" r="7"/><circle cx="896.33" cy="825" r="7"/><circle cx="912.36" cy="825" r="7"/><circle cx="928.4" cy="825" r="7"/></g>
<g stroke="#000" stroke-width="2.2" stroke-linejoin="round"><path d="M318.1 294.2C318.42 293.53 318.97 293.72 320 293C321.03 292.28 322.95 290.73 324.3 289.9C325.65 289.07 326.02 288.22 328.1 288C330.18 287.78 334.83 288.08 336.8 288.6C338.77 289.12 339.28 289.53 339.9 291.1C340.52 292.67 340.4 294.15 340.5 298C340.6 301.85 340.4 308.38 340.5 314.2C340.6 320.02 340.68 327.72 341.1 332.9C341.52 338.08 342.05 341.57 343 345.3C343.95 349.03 345.87 351.55 346.8 355.3C347.73 359.05 348.18 362.02 348.6 367.8C349.02 373.58 349.3 382.97 349.3 390C349.3 397.03 348.82 402.52 348.6 410C348.38 417.48 348.62 428.05 348 434.9C347.38 441.75 346.05 446.12 344.9 451.1C343.75 456.08 341.93 461.27 341.1 464.8C340.27 468.33 340.93 470.02 339.9 472.3C338.87 474.58 336.77 476.42 334.9 478.5C333.03 480.58 330.57 483.97 328.7 484.8C326.83 485.63 325.68 484.55 323.7 483.5C321.72 482.45 318.25 481.42 316.8 478.5C315.35 475.58 315.42 473.27 315 466C314.58 458.73 314.35 444.23 314.3 434.9C314.25 425.57 314.8 416.03 314.7 410C314.6 403.97 314.28 401.2 313.7 398.7C313.12 396.2 311.92 396.67 311.2 395C310.48 393.33 309.9 392.87 309.4 388.7C308.9 384.53 308.42 375.15 308.2 370C307.98 364.85 308.05 364.62 308.1 357.8C308.15 350.98 308.28 334.72 308.5 329.1C308.72 323.48 308.73 325.55 309.4 324.1C310.07 322.65 311.78 321.95 312.5 320.4C313.22 318.85 313.18 316.47 313.7 314.8C314.22 313.13 314.87 311.97 315.6 310.4C316.33 308.83 317.68 307.63 318.1 305.4C318.52 303.17 318.1 298.87 318.1 297C318.1 295.13 317.78 294.87 318.1 294.2Z" fill="#767271"/><path d="M472.8 385.3C474.5 385.23 478.33 385.22 480.1 385.7C481.87 386.18 481.9 387.45 483.4 388.2C484.9 388.95 487.75 389.25 489.1 390.2C490.45 391.15 490.88 392.2 491.5 393.9C492.12 395.6 492.12 398.37 492.8 400.4C493.48 402.43 495.07 403.78 495.6 406.1C496.13 408.42 496.13 411.58 496 414.3C495.87 417.02 495.33 419.68 494.8 422.4C494.27 425.12 493.48 427.87 492.8 430.6C492.12 433.33 491.25 436.07 490.7 438.8C490.15 441.53 489.83 444.33 489.5 447C489.17 449.67 489.18 452 488.7 454.8C488.22 457.6 487.42 461.08 486.6 463.8C485.78 466.52 485.57 469.33 483.8 471.1C482.03 472.87 477.63 473.03 476 474.4C474.37 475.77 474.47 477.4 474 479.3C473.53 481.2 473.33 482 473.2 485.8C473.07 489.6 473.55 498.57 473.2 502.1C472.85 505.63 472.4 505.37 471.1 507C469.8 508.63 466.9 511.48 465.4 511.9C463.9 512.32 463.18 510.85 462.1 509.5C461.02 508.15 460.05 505.57 458.9 503.8C457.75 502.03 455.88 500.67 455.2 498.9C454.52 497.13 454.87 496.07 454.8 493.2C454.73 490.33 455 487.02 454.8 481.7C454.6 476.38 453.87 467.42 453.6 461.3C453.33 455.18 453.27 449.17 453.2 445C453.13 440.83 452.8 438.7 453.2 436.3C453.6 433.9 454.65 432.23 455.6 430.6C456.55 428.97 458.22 427.87 458.9 426.5C459.58 425.13 459.7 424.7 459.7 422.4C459.7 420.1 459.03 416.37 458.9 412.7C458.77 409.03 458.77 403.13 458.9 400.4C459.03 397.67 458.42 397.93 459.7 396.3C460.98 394.67 464.97 391.95 466.6 390.6C468.23 389.25 468.95 388.95 469.5 388.2C470.05 387.45 469.35 386.58 469.9 386.1C470.45 385.62 471.1 385.37 472.8 385.3Z" fill="#d1cfd0"/><path d="M618.1 294.1C619.12 293.08 620.45 291.97 622.5 291.3C624.55 290.63 627.78 290.48 630.4 290.1C633.02 289.72 636.35 289 638.2 289C640.05 289 640.1 289.45 641.5 290.1C642.9 290.75 645.38 291.87 646.6 292.9C647.82 293.93 648.25 294.8 648.8 296.3C649.35 297.8 649.33 300.5 649.9 301.9C650.47 303.3 651.35 303.4 652.2 304.7C653.05 306 654.27 307.57 655 309.7C655.73 311.83 656.23 314.7 656.6 317.5C656.97 320.3 657.28 323.7 657.2 326.5C657.12 329.3 656.57 332.07 656.1 334.3C655.63 336.53 655.25 338.22 654.4 339.9C653.55 341.58 652.02 342.72 651 344.4C649.98 346.08 649.03 347.95 648.3 350C647.57 352.05 646.98 354.28 646.6 356.7C646.22 359.12 646.85 362.27 646 364.5C645.15 366.73 643.08 368.62 641.5 370.1C639.92 371.58 638.27 372.47 636.5 373.4C634.73 374.33 632.3 375.7 630.9 375.7C629.5 375.7 628.85 374.9 628.1 373.4C627.35 371.9 626.95 368.75 626.4 366.7C625.85 364.65 625.63 362.95 624.8 361.1C623.97 359.25 622.52 357.27 621.4 355.6C620.28 353.93 618.93 353.35 618.1 351.1C617.27 348.85 616.87 345.27 616.4 342.1C615.93 338.93 615.68 335.82 615.3 332.1C614.92 328.38 614.3 323.53 614.1 319.8C613.9 316.07 613.9 312.5 614.1 309.7C614.3 306.9 614.92 305.05 615.3 303C615.68 300.95 615.93 298.88 616.4 297.4C616.87 295.92 617.08 295.12 618.1 294.1Z" fill="#7f7f7f"/><path d="M321 652C321.92 651.17 323.17 650.5 325 650C326.83 649.5 329.65 649.25 332 649C334.35 648.75 337.25 648.25 339.1 648.5C340.95 648.75 341.77 649.75 343.1 650.5C344.43 651.25 346.18 651.75 347.1 653C348.02 654.25 348.1 656.67 348.6 658C349.1 659.33 349.35 659.83 350.1 661C350.85 662.17 352.27 663.15 353.1 665C353.93 666.85 354.68 669.58 355.1 672.1C355.52 674.62 355.68 677.6 355.6 680.1C355.52 682.6 355.1 685.02 354.6 687.1C354.1 689.18 353.43 691.1 352.6 692.6C351.77 694.1 350.43 694.68 349.6 696.1C348.77 697.52 348.18 699.27 347.6 701.1C347.02 702.93 346.52 704.93 346.1 707.1C345.68 709.27 345.93 712.08 345.1 714.1C344.27 716.12 342.6 717.93 341.1 719.2C339.6 720.47 337.7 721.12 336.1 721.7C334.5 722.28 332.68 722.95 331.5 722.7C330.32 722.45 329.67 721.63 329 720.2C328.33 718.77 328 715.95 327.5 714.1C327 712.25 326.75 710.6 326 709.1C325.25 707.6 324 706.43 323 705.1C322 703.77 320.67 703.27 320 701.1C319.33 698.93 319.33 694.93 319 692.1C318.67 689.27 318.3 687.1 318 684.1C317.7 681.1 317.28 677.12 317.2 674.1C317.12 671.08 317.2 668.52 317.5 666C317.8 663.48 318.67 660.83 319 659C319.33 657.17 319.17 656.17 319.5 655C319.83 653.83 320.08 652.83 321 652Z" fill="#404040"/><path d="M479.3 625.2C480.35 625.2 481.05 625.78 482.1 626.6C483.15 627.42 484.43 629.17 485.6 630.1C486.77 631.03 488.05 631.38 489.1 632.2C490.15 633.02 491.27 634 491.9 635C492.53 636 492.67 636.27 492.9 638.2C493.13 640.13 493 644.15 493.3 646.6C493.6 649.05 494.12 650.57 494.7 652.9C495.28 655.23 495.98 657.92 496.8 660.6C497.62 663.28 498.85 666.1 499.6 669C500.35 671.9 500.9 675.7 501.3 678C501.7 680.3 501.77 681.08 502 682.8C502.23 684.52 502.97 686.48 502.7 688.3C502.43 690.12 501.17 692.02 500.4 693.7C499.63 695.38 498.55 696.83 498.1 698.4C497.65 699.97 497.52 701.28 497.7 703.1C497.88 704.92 498.62 707.08 499.2 709.3C499.78 711.52 500.73 713.92 501.2 716.4C501.67 718.88 502.52 722.12 502 724.2C501.48 726.28 499.8 727.08 498.1 728.9C496.4 730.72 493.1 733.55 491.8 735.1C490.5 736.65 491.73 737.42 490.3 738.2C488.87 738.98 485.55 739.73 483.2 739.8C480.85 739.87 478.53 738.98 476.2 738.6C473.87 738.22 470.88 738.35 469.2 737.5C467.52 736.65 467.02 734.93 466.1 733.5C465.18 732.07 464.75 730.58 463.7 728.9C462.65 727.22 460.65 725.62 459.8 723.4C458.95 721.18 458.73 718.47 458.6 715.6C458.47 712.73 458.73 709.32 459 706.2C459.27 703.08 459.93 700.15 460.2 696.9C460.47 693.65 460.52 690.18 460.6 686.7C460.68 683.22 460.38 678.95 460.7 676C461.02 673.05 461.92 670.87 462.5 669C463.08 667.13 463.03 666.03 464.2 664.8C465.37 663.57 468.1 662.42 469.5 661.6C470.9 660.78 471.9 661.12 472.6 659.9C473.3 658.68 473.58 655.82 473.7 654.3C473.82 652.78 473.53 652.67 473.3 650.8C473.07 648.93 472.53 645.67 472.3 643.1C472.07 640.53 471.78 637.5 471.9 635.4C472.02 633.3 472.35 631.97 473 630.5C473.65 629.03 474.75 627.48 475.8 626.6C476.85 625.72 478.25 625.2 479.3 625.2Z" fill="#d1cfd0"/><path d="M716.8 634C718.57 633.88 722.32 633.63 724.3 634.2C726.28 634.77 727.35 636.35 728.7 637.4C730.05 638.45 731.68 638.12 732.4 640.5C733.12 642.88 732.38 648.8 733 651.7C733.62 654.6 735.17 655.62 736.1 657.9C737.03 660.18 737.65 663.12 738.6 665.4C739.55 667.68 741.17 668.48 741.8 671.6C742.43 674.72 742.3 678.9 742.4 684.1C742.5 689.3 742.43 695.98 742.4 702.8C742.37 709.62 742.62 718.8 742.2 725C741.78 731.2 740.7 736.47 739.9 740C739.1 743.53 737.92 742.67 737.4 746.2C736.88 749.73 736.9 754.55 736.8 761.2C736.7 767.85 736.92 777.8 736.8 786.1C736.68 794.4 736.42 804.77 736.1 811C735.78 817.23 735.93 820.78 734.9 823.5C733.87 826.22 731.77 826.15 729.9 827.3C728.03 828.45 725.78 830.52 723.7 830.4C721.62 830.28 719.27 828.17 717.4 826.6C715.53 825.03 713.63 823.6 712.5 821C711.37 818.4 711.43 815.15 710.6 811C709.77 806.85 708.43 800.87 707.5 796.1C706.57 791.33 705.58 787.18 705 782.4C704.42 777.62 704.22 774.05 704 767.4C703.78 760.75 703.75 750.15 703.7 742.5C703.65 734.85 703.48 727.08 703.7 721.5C703.92 715.92 704.48 712.95 705 709C705.52 705.05 705.97 700.92 706.8 697.8C707.63 694.68 709.27 693.62 710 690.3C710.73 686.98 710.9 685.17 711.2 677.9C711.5 670.63 711.58 653.35 711.8 646.7C712.02 640.05 712.18 639.97 712.5 638C712.82 636.03 712.98 635.57 713.7 634.9C714.42 634.23 715.03 634.12 716.8 634Z" fill="#404040"/></g>
<g font-family="Liberation Sans, sans-serif" fill="#000" stroke="#000" stroke-width="1.4" stroke-linejoin="round"><text x="74.14" y="168.95" font-size="34.5" textLength="23.74" lengthAdjust="spacingAndGlyphs" stroke-width="0.88">Л</text><text x="74.14" y="169.65" font-size="34.5" textLength="23.74" lengthAdjust="spacingAndGlyphs" stroke-width="0.88">Л</text><text x="99.02" y="168.95" font-size="34.5" textLength="22.71" lengthAdjust="spacingAndGlyphs" stroke-width="1.48">П</text><text x="99.02" y="169.65" font-size="34.5" textLength="22.71" lengthAdjust="spacingAndGlyphs" stroke-width="1.48">П</text><text x="123.27" y="168.95" font-size="34.5" textLength="18.33" lengthAdjust="spacingAndGlyphs" stroke-width="1.8">С</text><text x="123.27" y="169.65" font-size="34.5" textLength="18.33" lengthAdjust="spacingAndGlyphs" stroke-width="1.8">С</text><text x="672.56" y="72.35" font-size="29.8" textLength="22.29" lengthAdjust="spacingAndGlyphs" stroke-width="1.08">О</text><text x="672.56" y="73.05" font-size="29.8" textLength="22.29" lengthAdjust="spacingAndGlyphs" stroke-width="1.08">О</text><text x="695.41" y="72.35" font-size="29.8" textLength="8.58" lengthAdjust="spacingAndGlyphs" stroke-width="1.51">-</text><text x="695.41" y="73.05" font-size="29.8" textLength="8.58" lengthAdjust="spacingAndGlyphs" stroke-width="1.51">-</text><text x="707.13" y="72.35" font-size="28.31" textLength="13.32" lengthAdjust="spacingAndGlyphs" stroke-width="1.53">а</text><text x="707.13" y="73.05" font-size="28.31" textLength="13.32" lengthAdjust="spacingAndGlyphs" stroke-width="1.53">а</text><text x="723.4" y="72.35" font-size="28.31" textLength="17" lengthAdjust="spacingAndGlyphs" stroke-width="0.8">н</text><text x="723.4" y="73.05" font-size="28.31" textLength="17" lengthAdjust="spacingAndGlyphs" stroke-width="0.8">н</text><text x="741.47" y="72.35" font-size="28.31" textLength="12.15" lengthAdjust="spacingAndGlyphs" stroke-width="1.12">т</text><text x="741.47" y="73.05" font-size="28.31" textLength="12.15" lengthAdjust="spacingAndGlyphs" stroke-width="1.12">т</text><text x="755.61" y="72.35" font-size="28.31" textLength="15.68" lengthAdjust="spacingAndGlyphs" stroke-width="0.92">и</text><text x="755.61" y="73.05" font-size="28.31" textLength="15.68" lengthAdjust="spacingAndGlyphs" stroke-width="0.92">и</text><text x="773.16" y="72.35" font-size="28.31" textLength="11.52" lengthAdjust="spacingAndGlyphs" stroke-width="0.8">г</text><text x="773.16" y="73.05" font-size="28.31" textLength="11.52" lengthAdjust="spacingAndGlyphs" stroke-width="0.8">г</text><text x="785.47" y="72.35" font-size="28.31" textLength="16.21" lengthAdjust="spacingAndGlyphs" stroke-width="0.8">е</text><text x="785.47" y="73.05" font-size="28.31" textLength="16.21" lengthAdjust="spacingAndGlyphs" stroke-width="0.8">е</text><text x="802.96" y="72.35" font-size="28.31" textLength="16.37" lengthAdjust="spacingAndGlyphs" stroke-width="0.8">н</text><text x="802.96" y="73.05" font-size="28.31" textLength="16.37" lengthAdjust="spacingAndGlyphs" stroke-width="0.8">н</text><text x="788.34" y="192.75" font-size="34.5" textLength="20.72" lengthAdjust="spacingAndGlyphs" stroke-width="1.56">A</text><text x="788.34" y="193.45" font-size="34.5" textLength="20.72" lengthAdjust="spacingAndGlyphs" stroke-width="1.56">A</text><text x="811.66" y="192.75" font-size="34.5" textLength="21.85" lengthAdjust="spacingAndGlyphs" stroke-width="1.68">D</text><text x="811.66" y="193.45" font-size="34.5" textLength="21.85" lengthAdjust="spacingAndGlyphs" stroke-width="1.68">D</text><text x="836.44" y="192.75" font-size="34.5" textLength="18.6" lengthAdjust="spacingAndGlyphs" stroke-width="1.8">P</text><text x="836.44" y="193.45" font-size="34.5" textLength="18.6" lengthAdjust="spacingAndGlyphs" stroke-width="1.8">P</text><text x="855.77" y="192.75" font-size="34.5" textLength="10.16" lengthAdjust="spacingAndGlyphs" stroke-width="1.64">-</text><text x="855.77" y="193.45" font-size="34.5" textLength="10.16" lengthAdjust="spacingAndGlyphs" stroke-width="1.64">-</text><text x="866.52" y="192.75" font-size="32.77" textLength="15.19" lengthAdjust="spacingAndGlyphs" stroke-width="0.8">г</text><text x="866.52" y="193.45" font-size="32.77" textLength="15.19" lengthAdjust="spacingAndGlyphs" stroke-width="0.8">г</text><text x="881.24" y="192.75" font-size="32.77" textLength="17.48" lengthAdjust="spacingAndGlyphs" stroke-width="1.2">е</text><text x="881.24" y="193.45" font-size="32.77" textLength="17.48" lengthAdjust="spacingAndGlyphs" stroke-width="1.2">е</text><text x="900.53" y="192.75" font-size="32.77" textLength="18.74" lengthAdjust="spacingAndGlyphs" stroke-width="0.81">п</text><text x="900.53" y="193.45" font-size="32.77" textLength="18.74" lengthAdjust="spacingAndGlyphs" stroke-width="0.81">п</text><text x="920.79" y="192.75" font-size="32.77" textLength="14.02" lengthAdjust="spacingAndGlyphs" stroke-width="1.32">т</text><text x="920.79" y="193.45" font-size="32.77" textLength="14.02" lengthAdjust="spacingAndGlyphs" stroke-width="1.32">т</text><text x="935.6" y="192.75" font-size="32.77" textLength="19.11" lengthAdjust="spacingAndGlyphs" stroke-width="0.84">о</text><text x="935.6" y="193.45" font-size="32.77" textLength="19.11" lengthAdjust="spacingAndGlyphs" stroke-width="0.84">о</text><text x="956.31" y="192.75" font-size="32.77" textLength="14.52" lengthAdjust="spacingAndGlyphs" stroke-width="1.17">з</text><text x="956.31" y="193.45" font-size="32.77" textLength="14.52" lengthAdjust="spacingAndGlyphs" stroke-width="1.17">з</text><text x="972.62" y="192.75" font-size="32.77" textLength="13.89" lengthAdjust="spacingAndGlyphs" stroke-width="1.8">а</text><text x="972.62" y="193.45" font-size="32.77" textLength="13.89" lengthAdjust="spacingAndGlyphs" stroke-width="1.8">а</text><text x="727.48" y="232.75" font-size="29.8" textLength="17.54" lengthAdjust="spacingAndGlyphs" stroke-width="0.9">К</text><text x="727.48" y="233.45" font-size="29.8" textLength="17.54" lengthAdjust="spacingAndGlyphs" stroke-width="0.9">К</text><text x="746.19" y="232.75" font-size="29.8" textLength="21.57" lengthAdjust="spacingAndGlyphs" stroke-width="0.8">Д</text><text x="746.19" y="233.45" font-size="29.8" textLength="21.57" lengthAdjust="spacingAndGlyphs" stroke-width="0.8">Д</text><text x="768.63" y="232.75" font-size="29.8" textLength="21.76" lengthAdjust="spacingAndGlyphs" stroke-width="1.18">О</text><text x="768.63" y="233.45" font-size="29.8" textLength="21.76" lengthAdjust="spacingAndGlyphs" stroke-width="1.18">О</text><text x="15.71" y="356.95" font-size="34.5" textLength="22.66" lengthAdjust="spacingAndGlyphs" stroke-width="1.51">Н</text><text x="15.71" y="357.65" font-size="34.5" textLength="22.66" lengthAdjust="spacingAndGlyphs" stroke-width="1.51">Н</text><text x="40.11" y="356.95" font-size="32.77" textLength="14.57" lengthAdjust="spacingAndGlyphs" stroke-width="1.8">а</text><text x="40.11" y="357.65" font-size="32.77" textLength="14.57" lengthAdjust="spacingAndGlyphs" stroke-width="1.8">а</text><text x="58.03" y="356.95" font-size="32.77" textLength="19.94" lengthAdjust="spacingAndGlyphs" stroke-width="0.8">р</text><text x="58.03" y="357.65" font-size="32.77" textLength="19.94" lengthAdjust="spacingAndGlyphs" stroke-width="0.8">р</text><text x="79.74" y="356.95" font-size="32.77" textLength="17.4" lengthAdjust="spacingAndGlyphs" stroke-width="0.8">у</text><text x="79.74" y="357.65" font-size="32.77" textLength="17.4" lengthAdjust="spacingAndGlyphs" stroke-width="0.8">у</text><text x="98.33" y="356.95" font-size="32.77" textLength="25.14" lengthAdjust="spacingAndGlyphs" stroke-width="0.8">ж</text><text x="98.33" y="357.65" font-size="32.77" textLength="25.14" lengthAdjust="spacingAndGlyphs" stroke-width="0.8">ж</text><text x="125.69" y="356.95" font-size="32.77" textLength="19.42" lengthAdjust="spacingAndGlyphs" stroke-width="0.8">н</text><text x="125.69" y="357.65" font-size="32.77" textLength="19.42" lengthAdjust="spacingAndGlyphs" stroke-width="0.8">н</text><text x="147.61" y="356.95" font-size="32.77" textLength="14.48" lengthAdjust="spacingAndGlyphs" stroke-width="1.8">а</text><text x="147.61" y="357.65" font-size="32.77" textLength="14.48" lengthAdjust="spacingAndGlyphs" stroke-width="1.8">а</text><text x="167.08" y="356.95" font-size="32.77" textLength="16.39" lengthAdjust="spacingAndGlyphs" stroke-width="1.37">я</text><text x="167.08" y="357.65" font-size="32.77" textLength="16.39" lengthAdjust="spacingAndGlyphs" stroke-width="1.37">я</text><text x="16.09" y="405.85" font-size="32.77" textLength="29" lengthAdjust="spacingAndGlyphs" stroke-width="0.8">м</text><text x="16.09" y="406.55" font-size="32.77" textLength="29" lengthAdjust="spacingAndGlyphs" stroke-width="0.8">м</text><text x="45.91" y="405.85" font-size="32.77" textLength="16.44" lengthAdjust="spacingAndGlyphs" stroke-width="1.47">е</text><text x="45.91" y="406.55" font-size="32.77" textLength="16.44" lengthAdjust="spacingAndGlyphs" stroke-width="1.47">е</text><text x="63.1" y="405.85" font-size="32.77" textLength="28.88" lengthAdjust="spacingAndGlyphs" stroke-width="0.8">м</text><text x="63.1" y="406.55" font-size="32.77" textLength="28.88" lengthAdjust="spacingAndGlyphs" stroke-width="0.8">м</text><text x="92.34" y="405.85" font-size="32.77" textLength="19.07" lengthAdjust="spacingAndGlyphs" stroke-width="0.96">б</text><text x="92.34" y="406.55" font-size="32.77" textLength="19.07" lengthAdjust="spacingAndGlyphs" stroke-width="0.96">б</text><text x="111.86" y="405.85" font-size="32.77" textLength="19.59" lengthAdjust="spacingAndGlyphs" stroke-width="0.8">р</text><text x="111.86" y="406.55" font-size="32.77" textLength="19.59" lengthAdjust="spacingAndGlyphs" stroke-width="0.8">р</text><text x="133.7" y="405.85" font-size="32.77" textLength="14.87" lengthAdjust="spacingAndGlyphs" stroke-width="1.8">а</text><text x="133.7" y="406.55" font-size="32.77" textLength="14.87" lengthAdjust="spacingAndGlyphs" stroke-width="1.8">а</text><text x="151.45" y="405.85" font-size="32.77" textLength="19.8" lengthAdjust="spacingAndGlyphs" stroke-width="0.8">н</text><text x="151.45" y="406.55" font-size="32.77" textLength="19.8" lengthAdjust="spacingAndGlyphs" stroke-width="0.8">н</text><text x="173" y="405.85" font-size="32.77" textLength="14.87" lengthAdjust="spacingAndGlyphs" stroke-width="1.8">а</text><text x="173" y="406.55" font-size="32.77" textLength="14.87" lengthAdjust="spacingAndGlyphs" stroke-width="1.8">а</text><text x="289" y="570.95" font-size="34.5" textLength="22.24" lengthAdjust="spacingAndGlyphs" stroke-width="1.57">П</text><text x="289" y="571.65" font-size="34.5" textLength="22.24" lengthAdjust="spacingAndGlyphs" stroke-width="1.57">П</text><text x="313.24" y="570.95" font-size="32.77" textLength="16.89" lengthAdjust="spacingAndGlyphs" stroke-width="1.35">е</text><text x="313.24" y="571.65" font-size="32.77" textLength="16.89" lengthAdjust="spacingAndGlyphs" stroke-width="1.35">е</text><text x="331.97" y="570.95" font-size="32.77" textLength="20.53" lengthAdjust="spacingAndGlyphs" stroke-width="0.8">р</text><text x="331.97" y="571.65" font-size="32.77" textLength="20.53" lengthAdjust="spacingAndGlyphs" stroke-width="0.8">р</text><text x="352.86" y="570.95" font-size="32.77" textLength="19.99" lengthAdjust="spacingAndGlyphs" stroke-width="0.8">и</text><text x="352.86" y="571.65" font-size="32.77" textLength="19.99" lengthAdjust="spacingAndGlyphs" stroke-width="0.8">и</text><text x="375.14" y="570.95" font-size="32.77" textLength="18.22" lengthAdjust="spacingAndGlyphs" stroke-width="0.92">п</text><text x="375.14" y="571.65" font-size="32.77" textLength="18.22" lengthAdjust="spacingAndGlyphs" stroke-width="0.92">п</text><text x="395" y="570.95" font-size="32.77" textLength="17.29" lengthAdjust="spacingAndGlyphs" stroke-width="1.46">л</text><text x="395" y="571.65" font-size="32.77" textLength="17.29" lengthAdjust="spacingAndGlyphs" stroke-width="1.46">л</text><text x="414.5" y="570.95" font-size="32.77" textLength="14.67" lengthAdjust="spacingAndGlyphs" stroke-width="1.8">а</text><text x="414.5" y="571.65" font-size="32.77" textLength="14.67" lengthAdjust="spacingAndGlyphs" stroke-width="1.8">а</text><text x="433.78" y="570.95" font-size="32.77" textLength="14.06" lengthAdjust="spacingAndGlyphs" stroke-width="1.31">з</text><text x="433.78" y="571.65" font-size="32.77" textLength="14.06" lengthAdjust="spacingAndGlyphs" stroke-width="1.31">з</text><text x="448.52" y="570.95" font-size="32.77" textLength="29.84" lengthAdjust="spacingAndGlyphs" stroke-width="0.8">м</text><text x="448.52" y="571.65" font-size="32.77" textLength="29.84" lengthAdjust="spacingAndGlyphs" stroke-width="0.8">м</text><text x="479" y="570.95" font-size="32.77" textLength="14.67" lengthAdjust="spacingAndGlyphs" stroke-width="1.8">а</text><text x="479" y="571.65" font-size="32.77" textLength="14.67" lengthAdjust="spacingAndGlyphs" stroke-width="1.8">а</text><text x="497.53" y="570.95" font-size="32.77" textLength="13.74" lengthAdjust="spacingAndGlyphs" stroke-width="1.41">т</text><text x="497.53" y="571.65" font-size="32.77" textLength="13.74" lengthAdjust="spacingAndGlyphs" stroke-width="1.41">т</text><text x="512.92" y="570.95" font-size="32.77" textLength="19.35" lengthAdjust="spacingAndGlyphs" stroke-width="0.81">и</text><text x="512.92" y="571.65" font-size="32.77" textLength="19.35" lengthAdjust="spacingAndGlyphs" stroke-width="0.81">и</text><text x="531.09" y="570.95" font-size="32.77" textLength="18.79" lengthAdjust="spacingAndGlyphs" stroke-width="0.8">ч</text><text x="531.09" y="571.65" font-size="32.77" textLength="18.79" lengthAdjust="spacingAndGlyphs" stroke-width="0.8">ч</text><text x="551.79" y="570.95" font-size="32.77" textLength="17.77" lengthAdjust="spacingAndGlyphs" stroke-width="1.13">е</text><text x="551.79" y="571.65" font-size="32.77" textLength="17.77" lengthAdjust="spacingAndGlyphs" stroke-width="1.13">е</text><text x="571.62" y="570.95" font-size="32.77" textLength="15.27" lengthAdjust="spacingAndGlyphs" stroke-width="1.33">с</text><text x="571.62" y="571.65" font-size="32.77" textLength="15.27" lengthAdjust="spacingAndGlyphs" stroke-width="1.33">с</text><text x="587.56" y="570.95" font-size="32.77" textLength="16.98" lengthAdjust="spacingAndGlyphs" stroke-width="0.8">к</text><text x="587.56" y="571.65" font-size="32.77" textLength="16.98" lengthAdjust="spacingAndGlyphs" stroke-width="0.8">к</text><text x="606.07" y="570.95" font-size="32.77" textLength="18.66" lengthAdjust="spacingAndGlyphs" stroke-width="0.93">о</text><text x="606.07" y="571.65" font-size="32.77" textLength="18.66" lengthAdjust="spacingAndGlyphs" stroke-width="0.93">о</text><text x="626.11" y="570.95" font-size="32.77" textLength="17.03" lengthAdjust="spacingAndGlyphs" stroke-width="1.31">е</text><text x="626.11" y="571.65" font-size="32.77" textLength="17.03" lengthAdjust="spacingAndGlyphs" stroke-width="1.31">е</text><text x="651.89" y="570.95" font-size="32.77" textLength="20.03" lengthAdjust="spacingAndGlyphs" stroke-width="0.8">п</text><text x="651.89" y="571.65" font-size="32.77" textLength="20.03" lengthAdjust="spacingAndGlyphs" stroke-width="0.8">п</text><text x="672.9" y="570.95" font-size="32.77" textLength="18.75" lengthAdjust="spacingAndGlyphs" stroke-width="0.91">р</text><text x="672.9" y="571.65" font-size="32.77" textLength="18.75" lengthAdjust="spacingAndGlyphs" stroke-width="0.91">р</text><text x="693.26" y="570.95" font-size="32.77" textLength="19.49" lengthAdjust="spacingAndGlyphs" stroke-width="0.8">о</text><text x="693.26" y="571.65" font-size="32.77" textLength="19.49" lengthAdjust="spacingAndGlyphs" stroke-width="0.8">о</text><text x="714.7" y="570.95" font-size="32.77" textLength="14.82" lengthAdjust="spacingAndGlyphs" stroke-width="1.46">с</text><text x="714.7" y="571.65" font-size="32.77" textLength="14.82" lengthAdjust="spacingAndGlyphs" stroke-width="1.46">с</text><text x="730.54" y="570.95" font-size="32.77" textLength="15.12" lengthAdjust="spacingAndGlyphs" stroke-width="1">т</text><text x="730.54" y="571.65" font-size="32.77" textLength="15.12" lengthAdjust="spacingAndGlyphs" stroke-width="1">т</text><text x="747.24" y="570.95" font-size="32.77" textLength="17.03" lengthAdjust="spacingAndGlyphs" stroke-width="1.31">р</text><text x="747.24" y="571.65" font-size="32.77" textLength="17.03" lengthAdjust="spacingAndGlyphs" stroke-width="1.31">р</text><text x="766.2" y="570.95" font-size="32.77" textLength="14.67" lengthAdjust="spacingAndGlyphs" stroke-width="1.8">а</text><text x="766.2" y="571.65" font-size="32.77" textLength="14.67" lengthAdjust="spacingAndGlyphs" stroke-width="1.8">а</text><text x="784.27" y="570.95" font-size="32.77" textLength="19.67" lengthAdjust="spacingAndGlyphs" stroke-width="0.8">н</text><text x="784.27" y="571.65" font-size="32.77" textLength="19.67" lengthAdjust="spacingAndGlyphs" stroke-width="0.8">н</text><text x="805.42" y="570.95" font-size="32.77" textLength="15.27" lengthAdjust="spacingAndGlyphs" stroke-width="1.33">с</text><text x="805.42" y="571.65" font-size="32.77" textLength="15.27" lengthAdjust="spacingAndGlyphs" stroke-width="1.33">с</text><text x="821.66" y="570.95" font-size="32.77" textLength="14.99" lengthAdjust="spacingAndGlyphs" stroke-width="1.03">т</text><text x="821.66" y="571.65" font-size="32.77" textLength="14.99" lengthAdjust="spacingAndGlyphs" stroke-width="1.03">т</text><text x="836.99" y="570.95" font-size="32.77" textLength="18.71" lengthAdjust="spacingAndGlyphs" stroke-width="0.8">в</text><text x="836.99" y="571.65" font-size="32.77" textLength="18.71" lengthAdjust="spacingAndGlyphs" stroke-width="0.8">в</text><text x="855.36" y="570.95" font-size="32.77" textLength="19.49" lengthAdjust="spacingAndGlyphs" stroke-width="0.8">о</text><text x="855.36" y="571.65" font-size="32.77" textLength="19.49" lengthAdjust="spacingAndGlyphs" stroke-width="0.8">о</text><text x="11.28" y="719.85" font-size="34.5" textLength="20.06" lengthAdjust="spacingAndGlyphs" stroke-width="1.71">В</text><text x="11.28" y="720.55" font-size="34.5" textLength="20.06" lengthAdjust="spacingAndGlyphs" stroke-width="1.71">В</text><text x="32.67" y="719.85" font-size="32.77" textLength="17.96" lengthAdjust="spacingAndGlyphs" stroke-width="1.06">н</text><text x="32.67" y="720.55" font-size="32.77" textLength="17.96" lengthAdjust="spacingAndGlyphs" stroke-width="1.06">н</text><text x="52.37" y="719.85" font-size="32.77" textLength="16.05" lengthAdjust="spacingAndGlyphs" stroke-width="1.11">у</text><text x="52.37" y="720.55" font-size="32.77" textLength="16.05" lengthAdjust="spacingAndGlyphs" stroke-width="1.11">у</text><text x="70.36" y="719.85" font-size="32.77" textLength="14.99" lengthAdjust="spacingAndGlyphs" stroke-width="1.03">т</text><text x="70.36" y="720.55" font-size="32.77" textLength="14.99" lengthAdjust="spacingAndGlyphs" stroke-width="1.03">т</text><text x="86.13" y="719.85" font-size="32.77" textLength="18.59" lengthAdjust="spacingAndGlyphs" stroke-width="0.95">р</text><text x="86.13" y="720.55" font-size="32.77" textLength="18.59" lengthAdjust="spacingAndGlyphs" stroke-width="0.95">р</text><text x="105.33" y="719.85" font-size="32.77" textLength="18.81" lengthAdjust="spacingAndGlyphs" stroke-width="0.9">е</text><text x="105.33" y="720.55" font-size="32.77" textLength="18.81" lengthAdjust="spacingAndGlyphs" stroke-width="0.9">е</text><text x="125.69" y="719.85" font-size="32.77" textLength="20.43" lengthAdjust="spacingAndGlyphs" stroke-width="0.8">н</text><text x="125.69" y="720.55" font-size="32.77" textLength="20.43" lengthAdjust="spacingAndGlyphs" stroke-width="0.8">н</text><text x="147.25" y="719.85" font-size="32.77" textLength="19.8" lengthAdjust="spacingAndGlyphs" stroke-width="0.8">н</text><text x="147.25" y="720.55" font-size="32.77" textLength="19.8" lengthAdjust="spacingAndGlyphs" stroke-width="0.8">н</text><text x="168.99" y="719.85" font-size="32.77" textLength="16.24" lengthAdjust="spacingAndGlyphs" stroke-width="1.41">я</text><text x="168.99" y="720.55" font-size="32.77" textLength="16.24" lengthAdjust="spacingAndGlyphs" stroke-width="1.41">я</text><text x="187.97" y="719.85" font-size="32.77" textLength="15.51" lengthAdjust="spacingAndGlyphs" stroke-width="1.62">я</text><text x="187.97" y="720.55" font-size="32.77" textLength="15.51" lengthAdjust="spacingAndGlyphs" stroke-width="1.62">я</text><text x="24.29" y="768.05" font-size="32.77" textLength="29" lengthAdjust="spacingAndGlyphs" stroke-width="0.8">м</text><text x="24.29" y="768.75" font-size="32.77" textLength="29" lengthAdjust="spacingAndGlyphs" stroke-width="0.8">м</text><text x="54.11" y="768.05" font-size="32.77" textLength="16.44" lengthAdjust="spacingAndGlyphs" stroke-width="1.47">е</text><text x="54.11" y="768.75" font-size="32.77" textLength="16.44" lengthAdjust="spacingAndGlyphs" stroke-width="1.47">е</text><text x="71.3" y="768.05" font-size="32.77" textLength="28.88" lengthAdjust="spacingAndGlyphs" stroke-width="0.8">м</text><text x="71.3" y="768.75" font-size="32.77" textLength="28.88" lengthAdjust="spacingAndGlyphs" stroke-width="0.8">м</text><text x="100.54" y="768.05" font-size="32.77" textLength="19.07" lengthAdjust="spacingAndGlyphs" stroke-width="0.96">б</text><text x="100.54" y="768.75" font-size="32.77" textLength="19.07" lengthAdjust="spacingAndGlyphs" stroke-width="0.96">б</text><text x="120.06" y="768.05" font-size="32.77" textLength="19.59" lengthAdjust="spacingAndGlyphs" stroke-width="0.8">р</text><text x="120.06" y="768.75" font-size="32.77" textLength="19.59" lengthAdjust="spacingAndGlyphs" stroke-width="0.8">р</text><text x="141.9" y="768.05" font-size="32.77" textLength="14.87" lengthAdjust="spacingAndGlyphs" stroke-width="1.8">а</text><text x="141.9" y="768.75" font-size="32.77" textLength="14.87" lengthAdjust="spacingAndGlyphs" stroke-width="1.8">а</text><text x="159.65" y="768.05" font-size="32.77" textLength="19.8" lengthAdjust="spacingAndGlyphs" stroke-width="0.8">н</text><text x="159.65" y="768.75" font-size="32.77" textLength="19.8" lengthAdjust="spacingAndGlyphs" stroke-width="0.8">н</text><text x="181.2" y="768.05" font-size="32.77" textLength="14.87" lengthAdjust="spacingAndGlyphs" stroke-width="1.8">а</text><text x="181.2" y="768.75" font-size="32.77" textLength="14.87" lengthAdjust="spacingAndGlyphs" stroke-width="1.8">а</text></g>
</svg>
</body></html>
